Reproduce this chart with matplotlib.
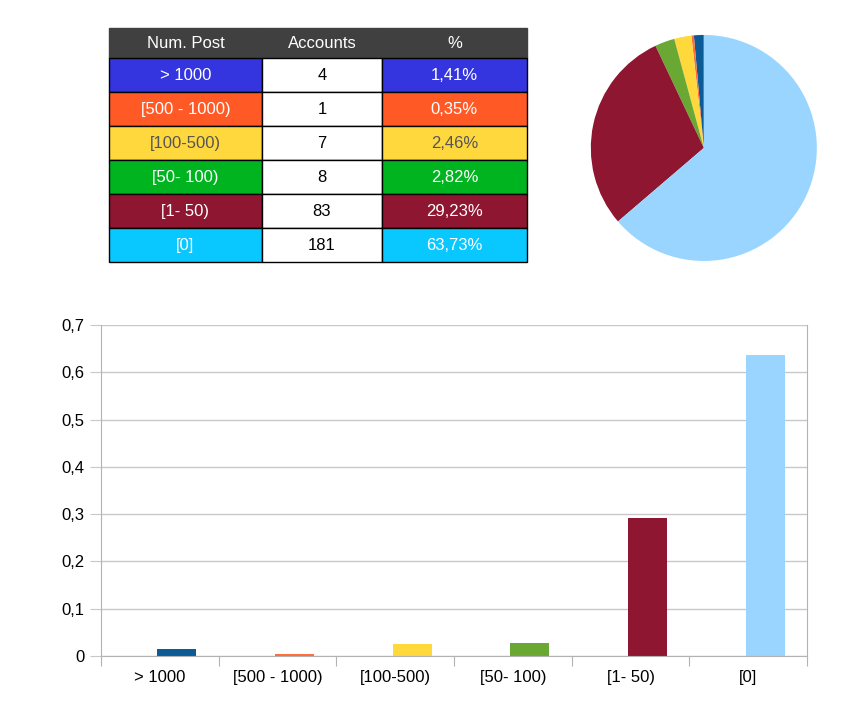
import matplotlib.pyplot as plt
from matplotlib.ticker import FuncFormatter

plt.rcParams['font.family'] = ['Liberation Sans', 'DejaVu Sans']

# data
categories = ['> 1000', '[500 - 1000)', '[100-500)', '[50- 100)', '[1- 50)', '[0]']
accounts = [4, 1, 7, 8, 83, 181]
percent_labels = ['1,41%', '0,35%', '2,46%', '2,82%', '29,23%', '63,73%']
shares = [0.0141, 0.0035, 0.0246, 0.0282, 0.2923, 0.6373]

# colours
chart_colors = ['#0b5b96', '#ff6e3a', '#ffd83b', '#6aa834', '#8e1631', '#99d5ff']
table_colors = ['#3535e0', '#ff5a26', '#ffd83e', '#00b420', '#8e1631', '#08c8ff']
table_text = ['white', 'white', '#555555', 'white', 'white', 'white']

fig = plt.figure(figsize=(8.6, 7.13), dpi=100)

# ---- table ----
axt = fig.add_axes([0.1267, 0.6325, 0.486, 0.3282])
axt.axis('off')
header = ['Num. Post', 'Accounts', '%']
cells = [[c, str(a), p] for c, a, p in zip(categories, accounts, percent_labels)]
tbl = axt.table(cellText=cells, colLabels=header, cellLoc='center',
                colWidths=[153, 120, 145], bbox=[0, 0, 1, 1])
tbl.auto_set_font_size(False)
tbl.set_fontsize(12)
for (r, c), cell in tbl.get_celld().items():
    if r == 0:
        cell.set_facecolor('#404040')
        cell.set_edgecolor('#404040')
        cell.get_text().set_color('white')
        cell.set_height(30)
    else:
        cell.set_height(34)
        cell.set_edgecolor('black')
        cell.set_linewidth(1.0)
        if c == 1:
            cell.set_facecolor('white')
            cell.get_text().set_color('black')
        else:
            cell.set_facecolor(table_colors[r - 1])
            cell.get_text().set_color(table_text[r - 1])

# ---- pie ----
axp = fig.add_axes([0.687, 0.634, 0.2628, 0.317])
axp.pie(shares, colors=chart_colors, startangle=90, counterclock=True,
        wedgeprops={'linewidth': 0})
axp.set_aspect('equal')
axp.set_xlim(-1, 1)
axp.set_ylim(-1, 1)

# ---- bar chart ----
ax = fig.add_axes([0.1174, 0.0799, 0.821, 0.4642])
x = range(len(categories))
ax.bar([i - 0.02 for i in x], shares, width=0.33, align='edge', color=chart_colors)
ax.set_xlim(-0.5, len(categories) - 0.5)
ax.set_ylim(0, 0.7)
ax.set_yticks([0, 0.1, 0.2, 0.3, 0.4, 0.5, 0.6, 0.7])
ax.yaxis.set_major_formatter(FuncFormatter(lambda v, p: '0' if v == 0 else ('%.1f' % v).replace('.', ',')))
ax.set_xticks([i + 0.5 for i in range(-1, len(categories))])
ax.set_xticklabels([])
ax.set_xticks(list(x), minor=True)
ax.set_xticklabels(categories, minor=True)
ax.tick_params(axis='x', which='major', length=7, color='#b3b3b3')
ax.tick_params(axis='x', which='minor', length=0, labelsize=12, pad=10)
ax.tick_params(axis='y', length=8, color='#c8c8c8', labelsize=12, pad=4)
ax.grid(True, axis='y', color='#c8c8c8', linewidth=1)
ax.set_axisbelow(True)
for s in ['left', 'bottom', 'right']:
    ax.spines[s].set_color('#b3b3b3')
ax.spines['top'].set_visible(False)

fig.savefig('out.png', dpi=100)
